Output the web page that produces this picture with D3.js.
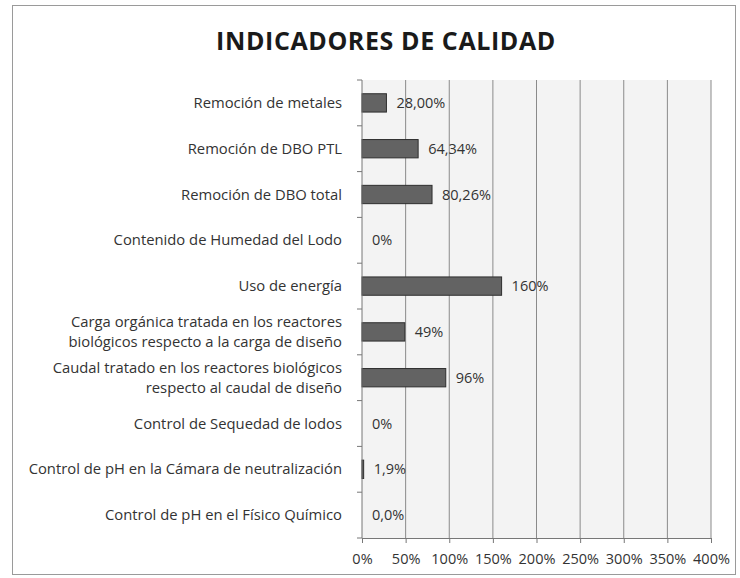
<!DOCTYPE html>
<html>
<head>
<meta charset="utf-8">
<script src="https://cdn.jsdelivr.net/npm/d3@7"></script>
<style>
	body { margin: 0; background: #fff; }
	svg { display: block; font-family: 'Open Sans', sans-serif; }
	.cat { font-size: 14.8px; fill: #333; }
	.val { font-size: 14.5px; fill: #333; }
	.tick text { font-size: 14.5px; fill: #333; font-family: 'Open Sans', sans-serif; }
	.title { font-size: 25px; font-weight: bold; fill: #1a1a1a; letter-spacing: 0.6px; }
</style>
</head>
<body>
<div id="chart"><svg></svg></div>
<script>
//Chart values.
const categories = [
	['Remoción de metales'],
	['Remoción de DBO PTL'],
	['Remoción de DBO total'],
	['Contenido de Humedad del Lodo'],
	['Uso de energía'],
	['Carga orgánica tratada en los reactores', 'biológicos respecto a la carga de diseño'],
	['Caudal tratado en los reactores biológicos', 'respecto al caudal de diseño'],
	['Control de Sequedad de lodos'],
	['Control de pH en la Cámara de neutralización'],
	['Control de pH en el Físico Químico']
];
const values = [28.00, 64.34, 80.26, 0, 160, 49, 96, 0, 1.9, 0.0];
const valueLabels = ['28,00%', '64,34%', '80,26%', '0%', '160%', '49%', '96%', '0%', '1,9%', '0,0%'];
const xTicks = [0, 50, 100, 150, 200, 250, 300, 350, 400];
const title = 'INDICADORES DE CALIDAD';

const width = 740, height = 578;
const margin = {top: 80, right: 29, bottom: 40, left: 362};

const svg = d3.select('#chart').select('svg')
	.attr('width', width)
	.attr('height', height);

//Scales work in page coordinates so every label sits at its true position.
const x = d3.scaleLinear().domain([0, 400]).range([margin.left, width - margin.right]);
const y = d3.scaleBand()
	.domain(d3.range(categories.length))
	.range([margin.top, height - margin.bottom])
	.paddingInner(0.6)
	.paddingOuter(0.3);
const plotTop = margin.top, plotBottom = height - margin.bottom;

//Outer chart border.
svg.append('rect')
	.attr('x', 12.5).attr('y', 5.5)
	.attr('width', 723).attr('height', 569)
	.style('fill', 'none')
	.style('stroke', '#9a9a9a')
	.style('stroke-width', 1);

svg.append('text')
	.attr('class', 'title')
	.attr('x', 386)
	.attr('y', 50)
	.attr('text-anchor', 'middle')
	.text(title);

//Plot area background.
svg.append('rect')
	.attr('x', x(0))
	.attr('y', plotTop)
	.attr('width', x(400) - x(0))
	.attr('height', plotBottom - plotTop)
	.style('fill', '#f3f3f3');

//Vertical gridlines.
svg.selectAll('line.grid')
	.data(xTicks.slice(1))
	.join('line')
	.attr('class', 'grid')
	.attr('x1', d => x(d)).attr('x2', d => x(d))
	.attr('y1', plotTop).attr('y2', plotBottom)
	.style('stroke', '#8a8a8a')
	.style('stroke-width', 1);

//Bars.
svg.selectAll('rect.bar')
	.data(values)
	.join('rect')
	.attr('class', 'bar')
	.attr('x', x(0))
	.attr('y', (d, i) => y(i))
	.attr('width', d => x(d) - x(0))
	.attr('height', y.bandwidth())
	.style('fill', '#636363')
	.style('stroke', d => d > 0 ? '#2e2e2e' : 'none')
	.style('stroke-width', 1);

//Value labels.
svg.selectAll('text.val')
	.data(values)
	.join('text')
	.attr('class', 'val')
	.attr('x', d => x(d) + 10)
	.attr('y', (d, i) => y(i) + y.bandwidth() / 2 + 5)
	.text((d, i) => valueLabels[i]);

//Category axis with boundary ticks.
const rowH = (plotBottom - plotTop) / categories.length;
svg.append('line')
	.attr('x1', x(0)).attr('x2', x(0))
	.attr('y1', plotTop).attr('y2', plotBottom)
	.style('stroke', '#777');
svg.selectAll('line.ytick')
	.data(d3.range(categories.length + 1))
	.join('line')
	.attr('class', 'ytick')
	.attr('x1', x(0) - 5).attr('x2', x(0))
	.attr('y1', i => plotTop + i * rowH)
	.attr('y2', i => plotTop + i * rowH)
	.style('stroke', '#777');

//Category labels, one text per line.
const lineGap = 20;
const catLines = categories.flatMap((lines, i) =>
	lines.map((line, k) => ({line, i, k, n: lines.length})));
svg.selectAll('text.cat')
	.data(catLines)
	.join('text')
	.attr('class', 'cat')
	.attr('text-anchor', 'end')
	.attr('x', x(0) - 20)
	.attr('y', d => y(d.i) + y.bandwidth() / 2 + 5 + (d.k - (d.n - 1) / 2) * lineGap)
	.text(d => d.line);

//Value axis.
svg.append('g')
	.attr('transform', `translate(0, ${plotBottom})`)
	.call(d3.axisBottom(x).tickValues(xTicks).tickFormat(d => `${d}%`).tickSize(5).tickPadding(11))
	.call(a => a.select('.domain').style('stroke', '#777'))
	.call(a => a.selectAll('.tick line').style('stroke', '#777'));
</script>
</body>
</html>
